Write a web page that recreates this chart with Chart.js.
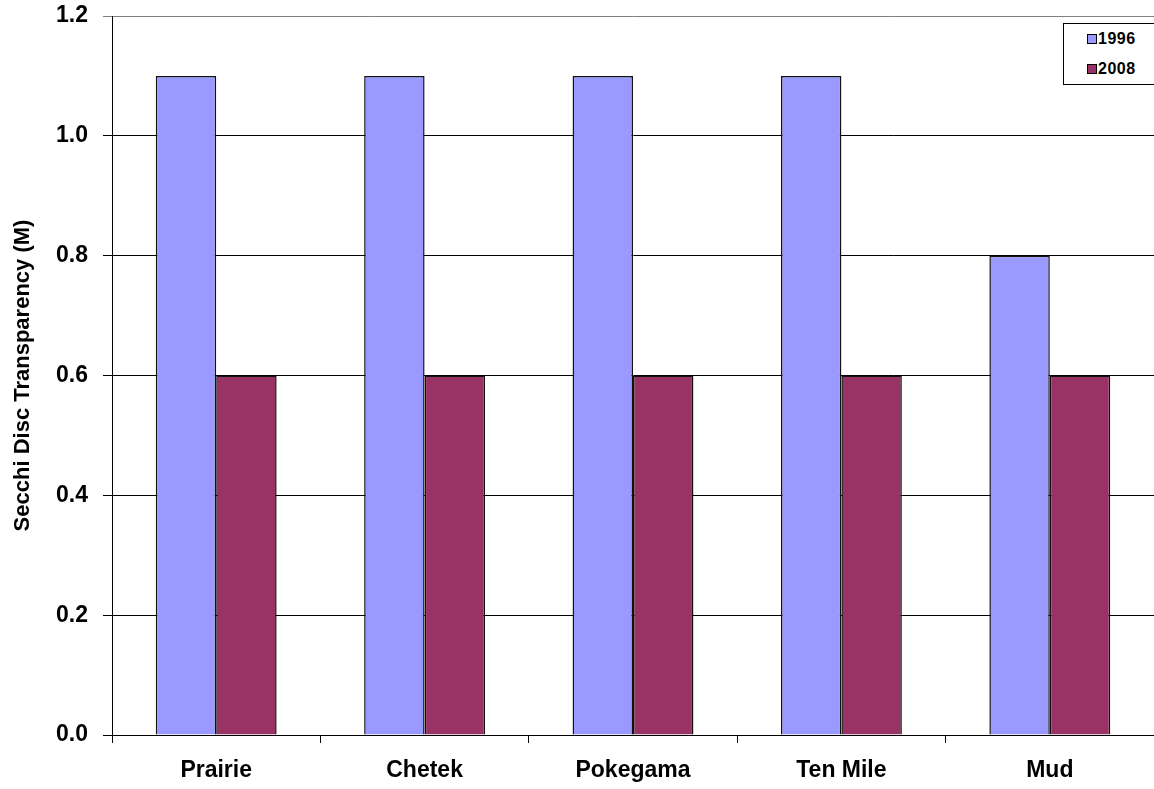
<!DOCTYPE html>
<html>
<head>
<meta charset="utf-8">
<script src="https://cdn.jsdelivr.net/npm/chart.js@4/dist/chart.umd.min.js"></script>
<style>
  html, body { margin: 0; padding: 0; background: #fff; }
  #wrap { position: relative; width: 1154px; height: 789px; overflow: hidden; }
  #legend {
    position: absolute; left: 1063px; top: 23px; width: 110px; height: 60px;
    border: 1px solid #000; background: #fff;
    font: bold 16px "Liberation Sans", Arial, sans-serif;
  }
  #legend .item { position: absolute; left: 23px; height: 18px; line-height: 18px; letter-spacing: 0.5px; }
  #legend .sw { display: inline-block; width: 8px; height: 8px; border: 1px solid #000; margin-right: 1px; vertical-align: 0px; }
</style>
</head>
<body>
<div id="wrap">
  <canvas id="chart" width="1154" height="789"></canvas>
  <div id="legend"></div>
</div>
<script>
const lakes = ['Prairie', 'Chetek', 'Pokegama', 'Ten Mile', 'Mud'];
const secchi1996 = [1.1, 1.1, 1.1, 1.1, 0.8];
const secchi2008 = [0.6, 0.6, 0.6, 0.6, 0.6];
const seriesNames = ['1996', '2008'];
const seriesColors = ['#9999FF', '#993366'];

const fontName = '"Liberation Sans", Arial, sans-serif';

// legend drawn as html box like the original
const legend = document.getElementById('legend');
seriesNames.forEach((name, i) => {
  const div = document.createElement('div');
  div.className = 'item';
  div.style.top = (6 + i * 30) + 'px';
  div.innerHTML = '<span class="sw" style="background:' + seriesColors[i] + '"></span>' + name;
  legend.appendChild(div);
});

new Chart(document.getElementById('chart'), {
  type: 'bar',
  data: {
    labels: lakes,
    datasets: [
      { label: seriesNames[0], data: secchi1996, backgroundColor: seriesColors[0], borderColor: '#111', borderWidth: 1.5 },
      { label: seriesNames[1], data: secchi2008, backgroundColor: seriesColors[1], borderColor: '#111', borderWidth: 1.5 },
    ],
  },
  options: {
    responsive: false,
    animation: false,
    layout: { padding: { top: 16, left: 0, right: 0, bottom: 0 } },
    datasets: { bar: { categoryPercentage: 0.58, barPercentage: 1 } },
    plugins: { legend: { display: false }, tooltip: { enabled: false } },
    scales: {
      x: {
        grid: { offset: true, drawOnChartArea: false, color: '#000', tickLength: 8 },
        border: { color: '#000' },
        ticks: { color: '#000', font: { family: fontName, size: 23, weight: 'bold' }, padding: 14 },
        afterFit: (scale) => { scale.height = 54; scale.paddingLeft = 0; scale.paddingRight = 0; },
      },
      y: {
        min: 0,
        max: 1.2,
        ticks: {
          stepSize: 0.2,
          color: '#000',
          padding: 15,
          font: { family: fontName, size: 23, weight: 'bold' },
          callback: (v) => v.toFixed(1),
        },
        grid: { color: (ctx) => ctx.tick && ctx.tick.value === 1.2 ? '#808080' : '#000', tickLength: 9 },
        border: { color: '#000' },
        title: {
          display: true,
          text: 'Secchi Disc Transparency (M)',
          color: '#000',
          font: { family: fontName, size: 22, weight: 'bold' },
          padding: { top: 10, bottom: 6 },
        },
        afterFit: (scale) => { scale.width = 112; scale.paddingTop = 0; scale.paddingBottom = 0; },
      },
    },
  },
});
</script>
</body>
</html>
